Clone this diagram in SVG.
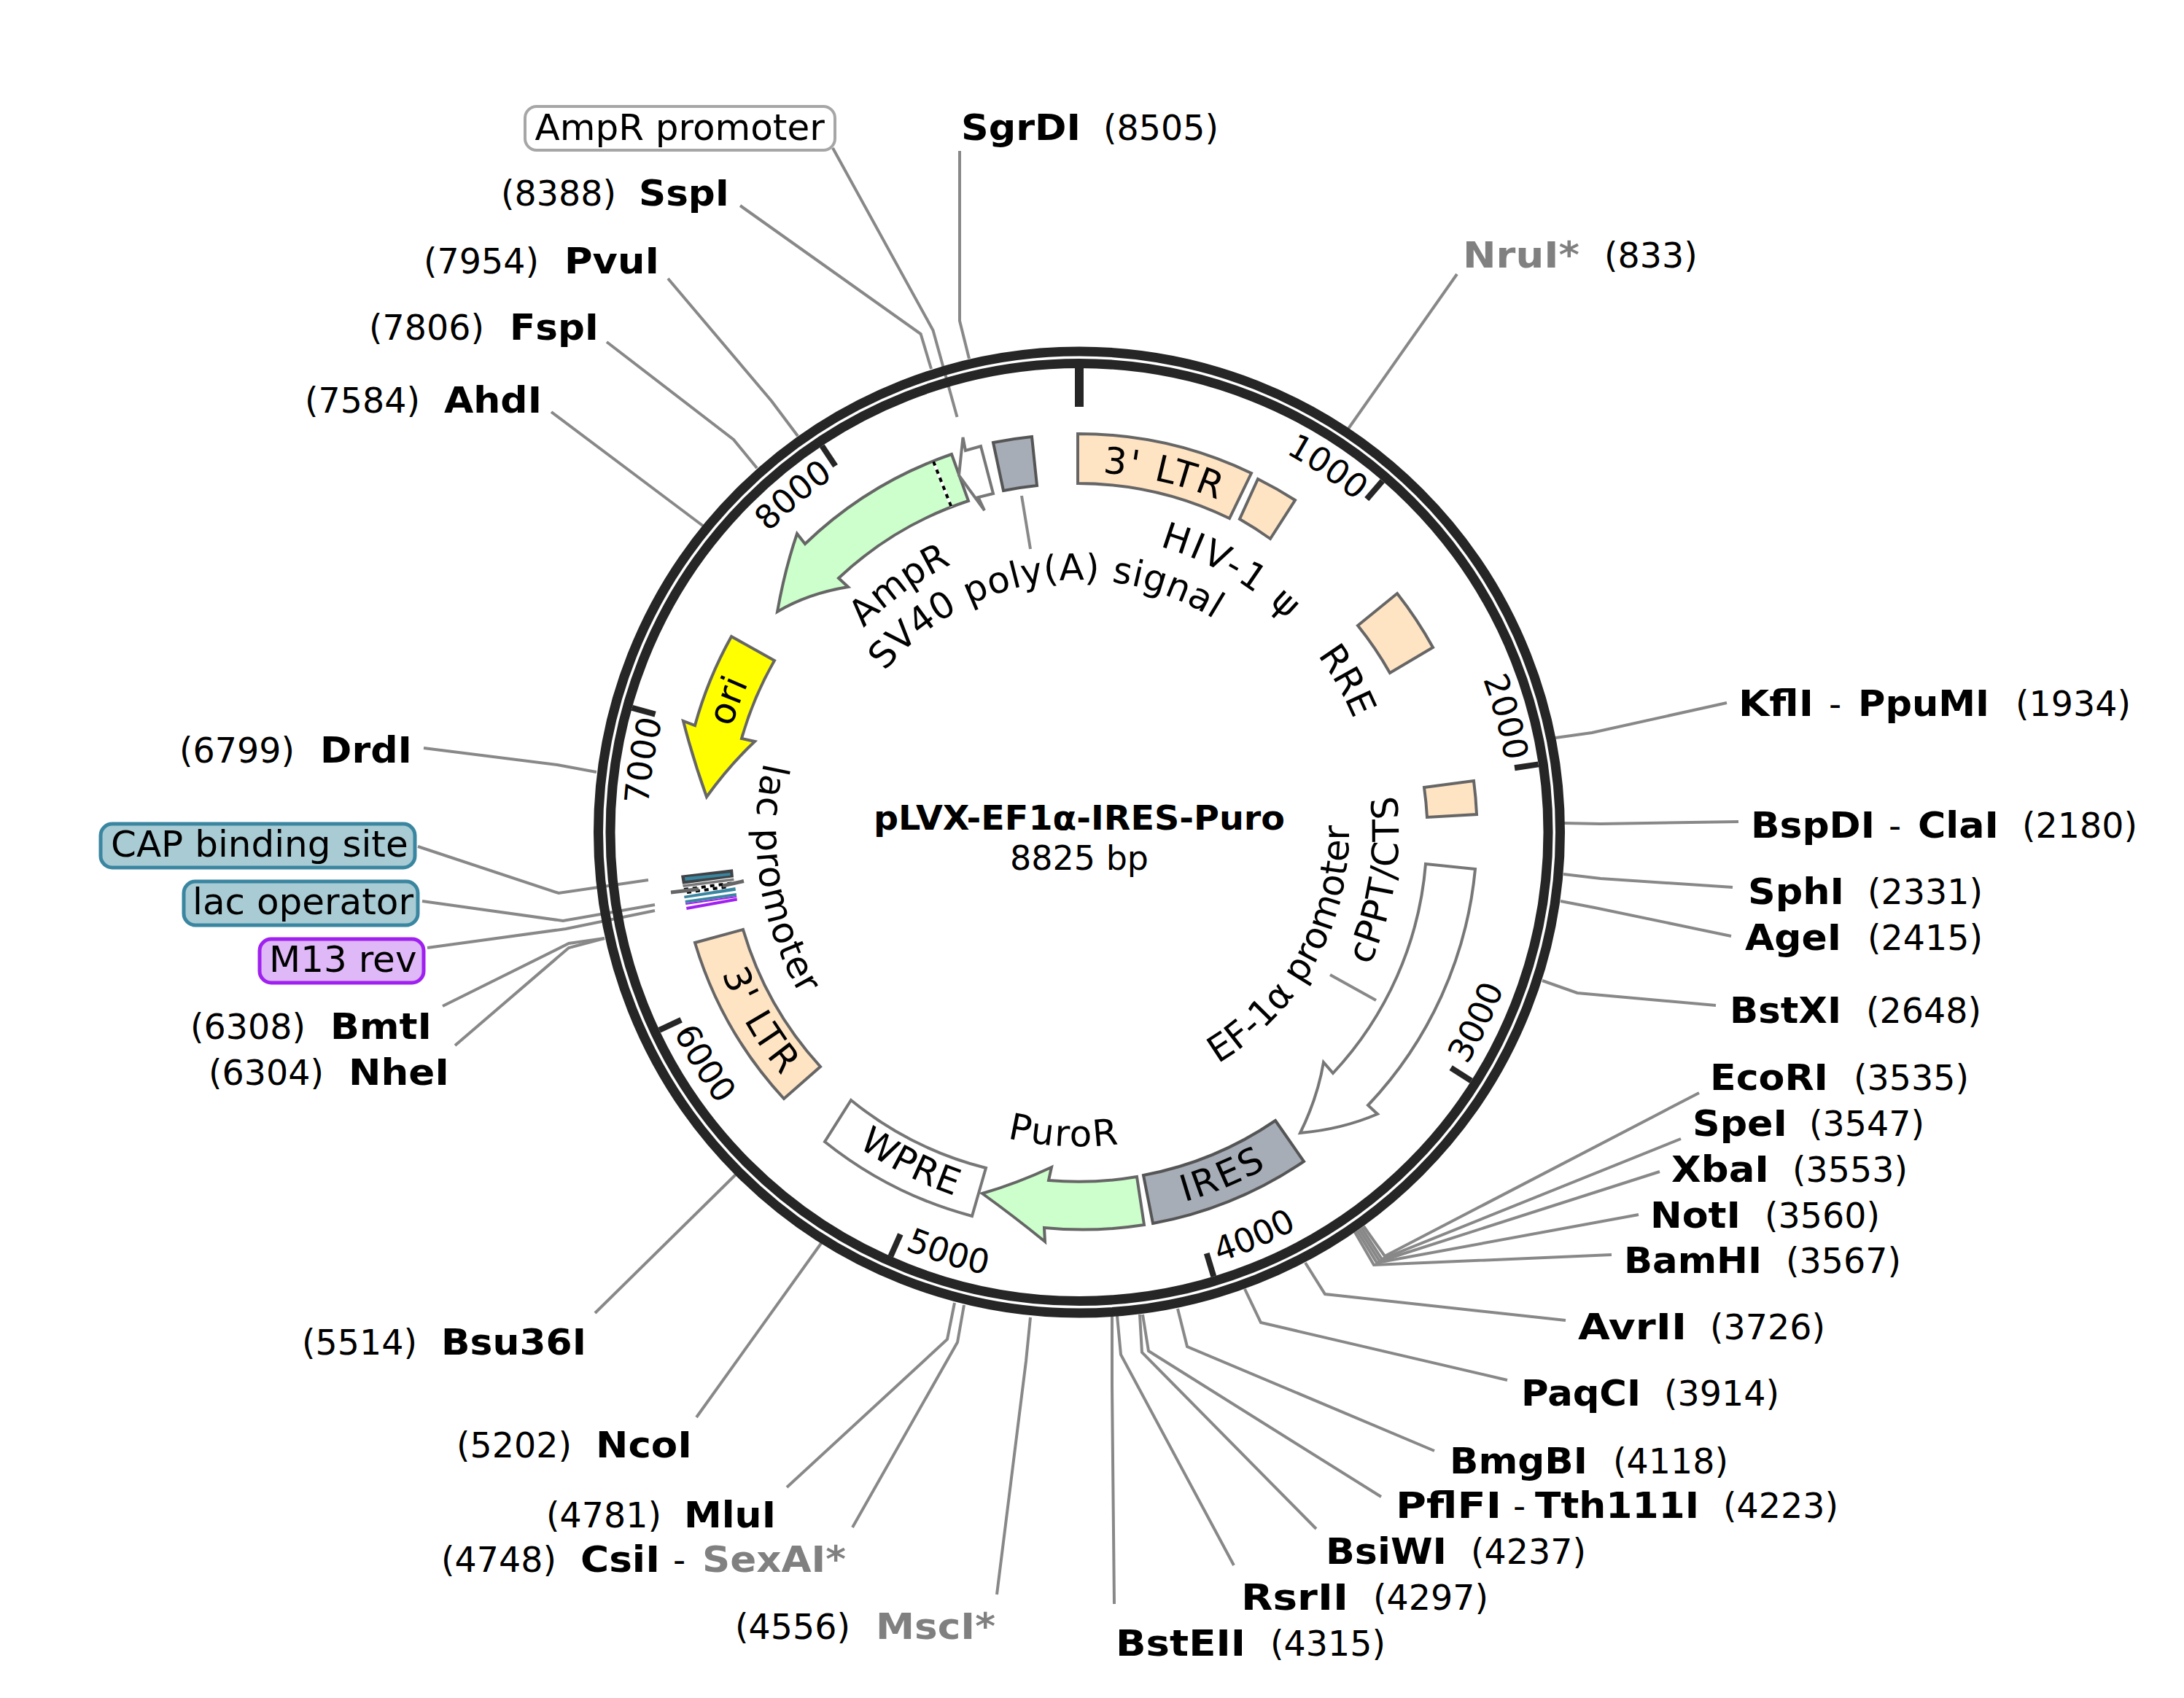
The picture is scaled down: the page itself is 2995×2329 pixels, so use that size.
<svg xmlns="http://www.w3.org/2000/svg" width="2995" height="2329" viewBox="0 0 2995 2329">
<style>
text{font-family:"DejaVu Sans","Liberation Sans",sans-serif;fill:#000}
.t{font-size:47.5px}
.l{font-size:50px;text-anchor:middle}
.k{font-size:46px;text-anchor:middle}
.n{font-size:50px;font-weight:700}
.g{fill:#808080}
.c{fill:none;stroke:#888;stroke-width:4}
.ring{fill:none;stroke:#262626;stroke-width:13}
.tick{stroke:#262626;stroke-width:8}
.f{stroke:#666;stroke-width:4;stroke-linejoin:miter}
.o{fill:#ffe4c4}.w{fill:#fff;stroke:#777}.a{fill:#a6adb6;stroke:#555}.p{fill:#ccffcc}
.teal{fill:#a9cbd4;stroke:#3a86a0;stroke-width:5}
</style>
<defs>
<path id="t592" d="M1480,1733.5A592,592 0 1 1 1480,549.5A592,592 0 1 1 1480,1733.5"/>
<path id="t494" d="M1480,1635.5A494,494 0 1 1 1480,647.5A494,494 0 1 1 1480,1635.5"/>
<path id="t407" d="M1480,1548.5A407,407 0 1 1 1480,734.5A407,407 0 1 1 1480,1548.5"/>
<path id="t346" d="M1480,1487.5A346,346 0 1 1 1480,795.5A346,346 0 1 1 1480,1487.5"/>
<path id="t498" d="M1480,1639.5A498,498 0 1 1 1480,643.5A498,498 0 1 1 1480,1639.5"/>
<path id="b620" d="M1480,521.5A620,620 0 1 0 1480,1761.5A620,620 0 1 0 1480,521.5"/>
<path id="b527" d="M1480,614.5A527,527 0 1 0 1480,1668.5A527,527 0 1 0 1480,614.5"/>
<path id="b431" d="M1480,710.5A431,431 0 1 0 1480,1572.5A431,431 0 1 0 1480,710.5"/>
<path id="b438" d="M1480,703.5A438,438 0 1 0 1480,1579.5A438,438 0 1 0 1480,703.5"/>
<path id="b370" d="M1480,771.5A370,370 0 1 0 1480,1511.5A370,370 0 1 0 1480,771.5"/>
<path id="b443" d="M1480,698.5A443,443 0 1 0 1480,1584.5A443,443 0 1 0 1480,698.5"/>
</defs>
<rect width="2995" height="2329" fill="#fff"/>
<g id="connectors">
<polyline class="c" points="1142,203 1279.5,453 1312.5,572"/>
<polyline class="c" points="1015,282 1262.6,458 1277,506"/>
<polyline class="c" points="1316,207 1316,440 1329,492"/>
<polyline class="c" points="916,382 1058,550 1094,598"/>
<polyline class="c" points="832,469 1006,603 1038,642"/>
<polyline class="c" points="756,565 965,722"/>
<polyline class="c" points="1998,376 1849,588"/>
<polyline class="c" points="2133,1012 2183,1005 2368,964"/>
<polyline class="c" points="2145,1129 2195,1130 2384,1127"/>
<polyline class="c" points="2144,1199 2195,1205 2376,1217"/>
<polyline class="c" points="2140,1236 2187,1245 2374,1284"/>
<polyline class="c" points="2115,1345 2163,1362 2353,1379"/>
<polyline class="c" points="1870,1682 1899,1723 2330,1499"/>
<polyline class="c" points="1867,1684 1895,1727 2305,1562"/>
<polyline class="c" points="1864,1686 1892,1730 2276,1607"/>
<polyline class="c" points="1861,1688 1888,1732 2247,1666"/>
<polyline class="c" points="1858,1690 1884,1735 2210,1721"/>
<polyline class="c" points="1790,1732 1817,1775 2147,1811"/>
<polyline class="c" points="1707,1768 1729,1814 2067,1893"/>
<polyline class="c" points="1615,1795 1628,1847 1967,1990"/>
<polyline class="c" points="1567,1803 1575,1853 1894,2053"/>
<polyline class="c" points="1563,1803 1566,1855 1805,2097"/>
<polyline class="c" points="1532,1805 1537,1858 1692,2147"/>
<polyline class="c" points="1525,1805 1525,1900 1528,2200"/>
<polyline class="c" points="1413,1807 1407,1867 1367,2187"/>
<polyline class="c" points="1322,1790 1313,1841 1169,2095"/>
<polyline class="c" points="1309,1787 1299,1837 1079,2040"/>
<polyline class="c" points="1127,1704 955,1944"/>
<polyline class="c" points="1012,1608 816,1801"/>
<polyline class="c" points="818,1059 764,1049 581,1026"/>
<polyline class="c" points="573,1161 766,1225 889,1207"/>
<polyline class="c" points="579,1236 772,1263 898,1241"/>
<polyline class="c" points="586,1300 776,1274 898,1249"/>
<polyline class="c" points="607,1380 780,1294 829,1287"/>
<polyline class="c" points="624,1434 780,1300 829,1287"/>
<polyline class="c" points="1401,680 1413,753"/>
<polyline class="c" points="1824,1337 1887,1372"/>
</g>
<g id="backbone">
<circle class="ring" cx="1480" cy="1141.5" r="659.5"/>
<circle class="ring" cx="1480" cy="1141.5" r="643"/>
<line x1="1480" y1="505" x2="1480" y2="558" stroke="#262626" stroke-width="12"/>
<g>
<line class="tick" x1="1480" y1="505" x2="1480" y2="538" transform="rotate(40.79 1480 1141.5)"/>
<line class="tick" x1="1480" y1="505" x2="1480" y2="538" transform="rotate(81.59 1480 1141.5)"/>
<line class="tick" x1="1480" y1="505" x2="1480" y2="538" transform="rotate(122.38 1480 1141.5)"/>
<line class="tick" x1="1480" y1="505" x2="1480" y2="538" transform="rotate(163.17 1480 1141.5)"/>
<line class="tick" x1="1480" y1="505" x2="1480" y2="538" transform="rotate(203.97 1480 1141.5)"/>
<line class="tick" x1="1480" y1="505" x2="1480" y2="538" transform="rotate(244.76 1480 1141.5)"/>
<line class="tick" x1="1480" y1="505" x2="1480" y2="538" transform="rotate(285.55 1480 1141.5)"/>
<line class="tick" x1="1480" y1="505" x2="1480" y2="538" transform="rotate(326.35 1480 1141.5)"/>
</g>
<text class="k"><textPath href="#t592" startOffset="59.5%">1000</textPath></text>
<text class="k"><textPath href="#t592" startOffset="70.8%">2000</textPath></text>
<text class="k"><textPath href="#b620" startOffset="67.9%">3000</textPath></text>
<text class="k"><textPath href="#b620" startOffset="56.5%">4000</textPath></text>
<text class="k"><textPath href="#b620" startOffset="45.2%">5000</textPath></text>
<text class="k"><textPath href="#b620" startOffset="33.8%">6000</textPath></text>
<text class="k"><textPath href="#t592" startOffset="27.6%">7000</textPath></text>
<text class="k"><textPath href="#t592" startOffset="38.8%">8000</textPath></text>
</g>
<g id="title">
<text x="1480" y="1138" font-size="47" font-weight="700" text-anchor="middle" textLength="564" lengthAdjust="spacingAndGlyphs">pLVX-EF1α-IRES-Puro</text>
<text x="1480" y="1192.5" font-size="46" text-anchor="middle">8825 bp</text>
</g>
<g id="f-3ltr-top"><path class="f o" d="M1478,595A546,546 0 0 1 1716,649L1686,711A478,478 0 0 0 1478,663Z"/><text class="l" letter-spacing="3"><textPath href="#t494" startOffset="53.7%">3' LTR</textPath></text></g>
<g id="f-psi"><path class="f o" d="M1725,657A543,543 0 0 1 1776,686L1742,739A480,480 0 0 0 1700,712Z"/><text class="l" letter-spacing="3.5"><textPath href="#t407" startOffset="58.4%">HIV-1 ψ</textPath></text></g>
<g id="f-rre"><path class="f o" d="M1916,814A546,546 0 0 1 1965,888L1906,923A478,478 0 0 0 1862,858Z"/><text class="l"><textPath href="#t407" startOffset="66.8%">RRE</textPath></text></g>
<g id="f-cppt"><path class="f o" d="M1953,1080L2021,1071A545,545 0 0 1 2025,1117L1957,1121A477,477 0 0 0 1953,1080Z"/><text class="l" letter-spacing="1"><textPath href="#b438" startOffset="72.5%">cPPT/CTS</textPath></text></g>
<g id="f-ef1a"><path class="f w" d="M1955,1185L2023,1192A545,545 0 0 1 1876,1516L1889,1528Q1840,1549 1783,1554Q1807,1505 1815,1457L1828,1472A477,477 0 0 0 1955,1185Z"/><text class="l"><textPath href="#b370" startOffset="67%">EF-1α promoter</textPath></text></g>
<g id="f-ires"><path class="f a" d="M1749,1537L1788,1593A546,546 0 0 1 1581,1678L1568,1612A478,478 0 0 0 1749,1537Z"/><text class="l" letter-spacing="3"><textPath href="#b527" startOffset="56.3%">IRES</textPath></text></g>
<g id="f-puror"><path class="f p" d="M1559,1614L1569,1680A546,546 0 0 1 1432,1684L1433,1703Q1390,1668 1347,1637Q1395,1623 1442,1601L1438,1619A478,478 0 0 0 1559,1614Z"/><text class="l" letter-spacing="2"><textPath href="#b431" startOffset="49.2%">PuroR</textPath></text></g>
<g id="f-wpre"><path class="f w" d="M1167,1509L1131,1566A548,548 0 0 0 1333,1668L1352,1602A480,480 0 0 1 1167,1509Z"/><text class="l" letter-spacing="1"><textPath href="#b527" startOffset="42.5%">WPRE</textPath></text></g>
<g id="f-3ltr-low"><path class="f o" d="M1019,1275A479,479 0 0 0 1125,1463L1075,1507A546,546 0 0 1 953,1293Z"/><text class="l" letter-spacing="3"><textPath href="#b527" startOffset="33.5%">3' LTR</textPath></text></g>
<g id="f-lac">
<polygon points="934,1200.7 1005,1192.3 1006,1203.3 936,1212.7" fill="#3f4346"/>
<polygon points="939,1203.3 1001.3,1197.3 1001.7,1200.7 939.7,1208" fill="#3a86a0"/>
<polygon points="936,1213.5 1006,1204.5 1006.7,1208 937,1217" fill="#777"/>
<line x1="938" y1="1220" x2="1007" y2="1211" stroke="#000" stroke-width="4" stroke-dasharray="6 6"/>
<line x1="942" y1="1224" x2="1000" y2="1216" stroke="#000" stroke-width="4" stroke-dasharray="6 6"/>
<line x1="920" y1="1224" x2="958" y2="1219.5" stroke="#666" stroke-width="5"/>
<line x1="991" y1="1215" x2="1020" y2="1208.5" stroke="#666" stroke-width="5"/>
<polygon points="938,1228.7 1008.3,1217 1009,1221.7 938.7,1232.3" fill="#3a86a0"/>
<polygon points="939.5,1235 1009.7,1225 1010,1229 940,1239" fill="#3a86a0"/>
<polygon points="940,1239 1010,1229 1010.3,1231 940.5,1241" fill="#a020f0"/>
<polygon points="941,1244 1010.5,1231.5 1011,1235.5 941.7,1248" fill="#a020f0"/>
<text class="l" letter-spacing="1"><textPath href="#b443" startOffset="27.5%">lac promoter</textPath></text>
</g>
<g id="f-ori"><path class="f" fill="#ffff00" d="M1003,873L1062,906A479,479 0 0 0 1017,1013L1035,1017Q1000,1050 969,1093Q950,1040 937,989L953,995A546,546 0 0 1 1003,873Z"/><text class="l"><textPath href="#t498" startOffset="30.7%">ori</textPath></text></g>
<g id="f-ampr"><path class="f p" d="M1305,623L1328,687A479,479 0 0 0 1150,793L1163,805Q1108,814 1066,839Q1076,782 1093,732L1104,746A546,546 0 0 1 1305,623Z"/><line x1="1280" y1="633" x2="1304.5" y2="695" stroke="#fff" stroke-width="4"/><line x1="1280" y1="633" x2="1304.5" y2="695" stroke="#000" stroke-width="4" stroke-dasharray="6 6"/><text class="l"><textPath href="#t407" startOffset="40%">AmpR</textPath></text></g>
<g id="f-amprp"><path class="f w" d="M1345,612L1362,677L1341.5,682L1350,700L1315,652L1320.5,600L1324,618Z"/></g>
<g id="f-sv40"><path class="f a" stroke-width="5" d="M1362,607A547,547 0 0 1 1415,599L1422,666A479,479 0 0 0 1376,673Z"/><text class="l" letter-spacing="0.6"><textPath href="#t346" startOffset="47.5%">SV40 poly(A) signal</textPath></text></g>
<g id="n-amprp"><rect x="720" y="146" width="425" height="60" rx="16" fill="#fff" stroke="#a6a6a6" stroke-width="4"/><text x="733.5" y="191.5" font-size="50">AmpR promoter</text></g>
<g id="n-cap"><rect x="138" y="1130" width="431" height="60" rx="16" class="teal"/><text x="152" y="1175" font-size="50">CAP binding site</text></g>
<g id="n-lacop"><rect x="252" y="1209" width="321" height="60" rx="16" class="teal"/><text x="264" y="1254" font-size="50">lac operator</text></g>
<g id="n-m13"><rect x="356" y="1288" width="225" height="60" rx="16" fill="#dfb8f8" stroke="#a020f0" stroke-width="5"/><text x="369" y="1332.5" font-size="50">M13 rev</text></g>
<g id="sites">
<g id="s-SgrDI"><text y="192"><tspan class="n" x="1318" textLength="164" lengthAdjust="spacingAndGlyphs">SgrDI</tspan> <tspan class="t" x="1513">(8505)</tspan></text></g>
<g id="s-NruI"><text y="367"><tspan class="n g" x="2006" textLength="160" lengthAdjust="spacingAndGlyphs">NruI*</tspan> <tspan class="t" x="2200">(833)</tspan></text></g>
<g id="s-KflI"><text y="982"><tspan class="n" x="2384" textLength="103" lengthAdjust="spacingAndGlyphs">KflI</tspan> <tspan class="t" x="2508">-</tspan> <tspan class="n" x="2548" textLength="180" lengthAdjust="spacingAndGlyphs">PpuMI</tspan> <tspan class="t" x="2764">(1934)</tspan></text></g>
<g id="s-BspDI"><text y="1149"><tspan class="n" x="2401" textLength="170" lengthAdjust="spacingAndGlyphs">BspDI</tspan> <tspan class="t" x="2590">-</tspan> <tspan class="n" x="2630" textLength="111" lengthAdjust="spacingAndGlyphs">ClaI</tspan> <tspan class="t" x="2773">(2180)</tspan></text></g>
<g id="s-SphI"><text y="1240"><tspan class="n" x="2397" textLength="132" lengthAdjust="spacingAndGlyphs">SphI</tspan> <tspan class="t" x="2561">(2331)</tspan></text></g>
<g id="s-AgeI"><text y="1303"><tspan class="n" x="2393" textLength="132" lengthAdjust="spacingAndGlyphs">AgeI</tspan> <tspan class="t" x="2561">(2415)</tspan></text></g>
<g id="s-BstXI"><text y="1403"><tspan class="n" x="2372" textLength="153" lengthAdjust="spacingAndGlyphs">BstXI</tspan> <tspan class="t" x="2559">(2648)</tspan></text></g>
<g id="s-EcoRI"><text y="1495"><tspan class="n" x="2345" textLength="162" lengthAdjust="spacingAndGlyphs">EcoRI</tspan> <tspan class="t" x="2542">(3535)</tspan></text></g>
<g id="s-SpeI"><text y="1558"><tspan class="n" x="2321" textLength="130" lengthAdjust="spacingAndGlyphs">SpeI</tspan> <tspan class="t" x="2481">(3547)</tspan></text></g>
<g id="s-XbaI"><text y="1621"><tspan class="n" x="2292" textLength="134" lengthAdjust="spacingAndGlyphs">XbaI</tspan> <tspan class="t" x="2458">(3553)</tspan></text></g>
<g id="s-NotI"><text y="1684"><tspan class="n" x="2263" textLength="124" lengthAdjust="spacingAndGlyphs">NotI</tspan> <tspan class="t" x="2420">(3560)</tspan></text></g>
<g id="s-BamHI"><text y="1746"><tspan class="n" x="2227" textLength="189" lengthAdjust="spacingAndGlyphs">BamHI</tspan> <tspan class="t" x="2449">(3567)</tspan></text></g>
<g id="s-AvrII"><text y="1837"><tspan class="n" x="2164" textLength="149" lengthAdjust="spacingAndGlyphs">AvrII</tspan> <tspan class="t" x="2345">(3726)</tspan></text></g>
<g id="s-PaqCI"><text y="1928"><tspan class="n" x="2086" textLength="164" lengthAdjust="spacingAndGlyphs">PaqCI</tspan> <tspan class="t" x="2282">(3914)</tspan></text></g>
<g id="s-BmgBI"><text y="2021"><tspan class="n" x="1988" textLength="189" lengthAdjust="spacingAndGlyphs">BmgBI</tspan> <tspan class="t" x="2212">(4118)</tspan></text></g>
<g id="s-PflFI"><text y="2082"><tspan class="n" x="1914" textLength="145" lengthAdjust="spacingAndGlyphs">PflFI</tspan> <tspan class="t" x="2075">-</tspan> <tspan class="n" x="2105" textLength="225" lengthAdjust="spacingAndGlyphs">Tth111I</tspan> <tspan class="t" x="2363">(4223)</tspan></text></g>
<g id="s-BsiWI"><text y="2145"><tspan class="n" x="1818" textLength="166" lengthAdjust="spacingAndGlyphs">BsiWI</tspan> <tspan class="t" x="2017">(4237)</tspan></text></g>
<g id="s-RsrII"><text y="2208"><tspan class="n" x="1702" textLength="147" lengthAdjust="spacingAndGlyphs">RsrII</tspan> <tspan class="t" x="1883">(4297)</tspan></text></g>
<g id="s-BstEII"><text y="2271"><tspan class="n" x="1530" textLength="178" lengthAdjust="spacingAndGlyphs">BstEII</tspan> <tspan class="t" x="1742">(4315)</tspan></text></g>
<g id="s-SspI"><text y="282"><tspan class="t" x="687">(8388)</tspan> <tspan class="n" x="876" textLength="124" lengthAdjust="spacingAndGlyphs">SspI</tspan></text></g>
<g id="s-PvuI"><text y="375"><tspan class="t" x="581">(7954)</tspan> <tspan class="n" x="774" textLength="130" lengthAdjust="spacingAndGlyphs">PvuI</tspan></text></g>
<g id="s-FspI"><text y="466"><tspan class="t" x="506">(7806)</tspan> <tspan class="n" x="699" textLength="122" lengthAdjust="spacingAndGlyphs">FspI</tspan></text></g>
<g id="s-AhdI"><text y="566"><tspan class="t" x="418">(7584)</tspan> <tspan class="n" x="609" textLength="134" lengthAdjust="spacingAndGlyphs">AhdI</tspan></text></g>
<g id="s-DrdI"><text y="1046"><tspan class="t" x="246">(6799)</tspan> <tspan class="n" x="439" textLength="126" lengthAdjust="spacingAndGlyphs">DrdI</tspan></text></g>
<g id="s-BmtI"><text y="1425"><tspan class="t" x="261">(6308)</tspan> <tspan class="n" x="453" textLength="139" lengthAdjust="spacingAndGlyphs">BmtI</tspan></text></g>
<g id="s-NheI"><text y="1488"><tspan class="t" x="286">(6304)</tspan> <tspan class="n" x="478" textLength="138" lengthAdjust="spacingAndGlyphs">NheI</tspan></text></g>
<g id="s-Bsu36I"><text y="1858"><tspan class="t" x="414">(5514)</tspan> <tspan class="n" x="605" textLength="199" lengthAdjust="spacingAndGlyphs">Bsu36I</tspan></text></g>
<g id="s-NcoI"><text y="1999"><tspan class="t" x="626">(5202)</tspan> <tspan class="n" x="817" textLength="132" lengthAdjust="spacingAndGlyphs">NcoI</tspan></text></g>
<g id="s-MluI"><text y="2095"><tspan class="t" x="749">(4781)</tspan> <tspan class="n" x="938" textLength="126" lengthAdjust="spacingAndGlyphs">MluI</tspan></text></g>
<g id="s-CsiI"><text y="2156"><tspan class="t" x="605">(4748)</tspan> <tspan class="n" x="796" textLength="109" lengthAdjust="spacingAndGlyphs">CsiI</tspan> <tspan class="t" x="923">-</tspan> <tspan class="n g" x="963" textLength="197" lengthAdjust="spacingAndGlyphs">SexAI*</tspan></text></g>
<g id="s-MscI"><text y="2248"><tspan class="t" x="1008">(4556)</tspan> <tspan class="n g" x="1201" textLength="164" lengthAdjust="spacingAndGlyphs">MscI*</tspan></text></g>
</g>
</svg>
